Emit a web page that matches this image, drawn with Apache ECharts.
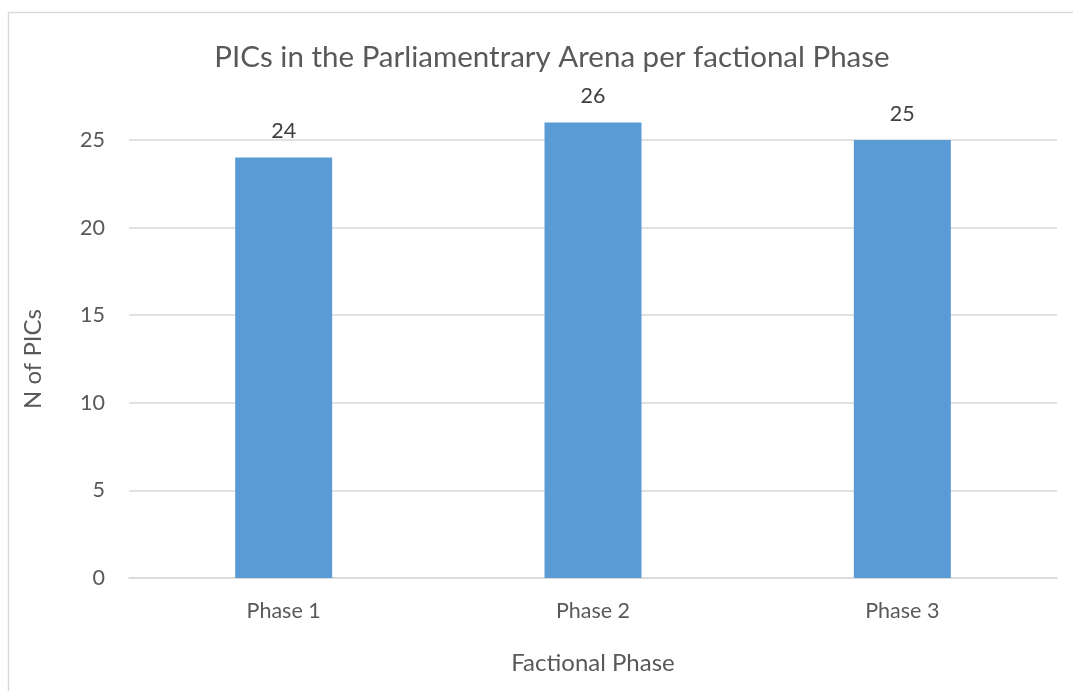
<!DOCTYPE html>
<html>
<head>
<meta charset="utf-8">
<script src="https://cdn.jsdelivr.net/npm/echarts@6/dist/echarts.min.js"></script>
<style>
  html, body { margin: 0; padding: 0; background: #fff; }
  #chart { width: 1073px; height: 691px; }
</style>
</head>
<body>
<div id="chart"></div>
<script>
// data
var phases = ['Phase 1', 'Phase 2', 'Phase 3'];
var picCounts = [24, 26, 25];

var myChart = echarts.init(document.getElementById('chart'));
var font = 'Lato, "Open Sans", sans-serif';

var option = {
  backgroundColor: '#fff',
  animation: false,
  textStyle: { fontFamily: font },
  graphic: [
    {
      type: 'rect',
      shape: { x: 8.5, y: 12.5, width: 1100, height: 700 },
      style: { fill: 'none', stroke: '#d9d9d9', lineWidth: 1.5 },
      silent: true
    }
  ],
  title: {
    text: 'PICs in the Parliamentrary Arena per factional Phase',
    left: 547,
    textAlign: 'center',
    top: 37,
    textStyle: { fontFamily: font, fontSize: 29.5, fontWeight: 'normal', color: '#595959' }
  },
  grid: { left: 129, right: 16, top: 140, bottom: 113 },
  xAxis: {
    type: 'category',
    data: phases,
    name: 'Factional Phase',
    nameLocation: 'middle',
    nameGap: 73,
    nameTextStyle: { fontFamily: font, fontSize: 24, color: '#595959' },
    axisLine: { lineStyle: { color: '#d9d9d9', width: 1.5 } },
    axisTick: { show: false },
    axisLabel: { fontFamily: font, fontSize: 21.5, color: '#595959', margin: 22 }
  },
  yAxis: {
    type: 'value',
    min: 0,
    max: 25,
    interval: 5,
    name: 'N of PICs',
    nameLocation: 'middle',
    nameGap: 84,
    nameRotate: 90,
    nameTextStyle: { fontFamily: font, fontSize: 24, color: '#595959' },
    axisLine: { show: false },
    axisTick: { show: false },
    axisLabel: { fontFamily: font, fontSize: 21.5, color: '#595959', margin: 24 },
    splitLine: { lineStyle: { color: '#d9d9d9', width: 1.5 } }
  },
  series: [
    {
      name: 'N of PICs',
      type: 'bar',
      data: picCounts,
      barWidth: 97,
      clip: false,
      itemStyle: { color: '#5b9bd5' },
      label: {
        show: true,
        position: 'top',
        distance: 15,
        fontFamily: font,
        fontSize: 21.5,
        color: '#404040'
      }
    }
  ]
};

option && myChart.setOption(option);
</script>
</body>
</html>
